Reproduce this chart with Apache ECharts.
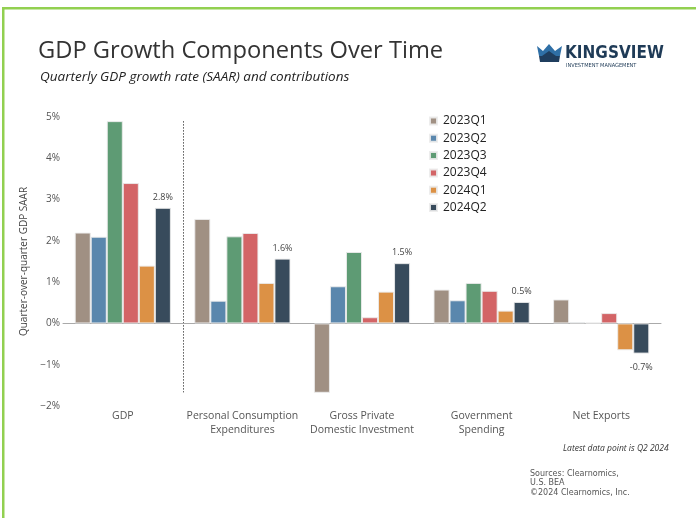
<!DOCTYPE html>
<html>
<head>
<meta charset="utf-8">
<script src="https://cdn.jsdelivr.net/npm/echarts@6/dist/echarts.min.js"></script>
<style>
html,body{margin:0;padding:0;background:#fff;}
#c{width:696px;height:518px;}
</style>
</head>
<body>
<div id="c"></div>
<script>
const categories = ['GDP', 'Personal Consumption\nExpenditures', 'Gross Private\nDomestic Investment', 'Government\nSpending', 'Net Exports'];
const seriesNames = ['2023Q1', '2023Q2', '2023Q3', '2023Q4', '2024Q1', '2024Q2'];
const q2023Q1 = [2.2, 2.53, -1.68, 0.82, 0.58];
const q2023Q2 = [2.1, 0.55, 0.90, 0.56, 0.03];
const q2023Q3 = [4.9, 2.11, 1.73, 0.98, 0.02];
const q2023Q4 = [3.4, 2.19, 0.15, 0.79, 0.25];
const q2024Q1 = [1.4, 0.98, 0.77, 0.31, -0.65];
const q2024Q2 = [2.8, 1.57, 1.46, 0.52, -0.73];
const seriesColors = ['#a09083', '#5a87ad', '#5e9b74', '#d36466', '#dc9145', '#384b5c'];
const yTicks = [-2, -1, 0, 1, 2, 3, 4, 5];

const allValues = [q2023Q1, q2023Q2, q2023Q3, q2023Q4, q2024Q1, q2024Q2];
const chart = echarts.init(document.getElementById('c'), null, {renderer: 'canvas'});

const FONT = '"Open Sans", "Noto Sans", sans-serif';

const series = seriesNames.map((name, i) => {
  const isLast = i === seriesNames.length - 1;
  return {
    name: name,
    type: 'bar',
    barCategoryGap: '19.6%',
    barGap: '0%',
    itemStyle: {color: seriesColors[i], borderColor: 'rgba(235,235,235,0.9)', borderWidth: 1},
    data: allValues[i].map(v => {
      const d = {value: v};
      if (isLast) {
        d.label = {
          show: true,
          position: v >= 0 ? 'top' : 'bottom',
          distance: v >= 0 ? 6 : 9,
          formatter: (p) => p.value.toFixed(1) + '%',
          fontSize: 9,
          color: '#444',
          fontFamily: FONT
        };
      }
      return d;
    })
  };
});

const option = {
  animation: false,
  backgroundColor: '#fff',
  grid: {left: 63, right: 35, top: 117, bottom: 112, containLabel: false},
  legend: {
    orient: 'vertical',
    left: 424,
    top: 110,
    itemWidth: 7,
    itemHeight: 7,
    itemGap: 5.3,
    icon: 'rect',
    data: seriesNames,
    textStyle: {fontSize: 12, color: '#222', fontFamily: FONT, lineHeight: 12, padding: [0,0,0,1]}
  },
  xAxis: {
    type: 'category',
    data: categories,
    axisLine: {show: true, onZero: true, lineStyle: {color: '#aaa', width: 1}},
    axisTick: {show: false},
    axisLabel: {
      interval: 0,
      fontSize: 10.5,
      color: '#555',
      fontFamily: FONT,
      lineHeight: 14,
      margin: 3
    },
    position: 'bottom'
  },
  yAxis: {
    type: 'value',
    min: -2,
    max: 5,
    interval: 1,
    splitLine: {show: false},
    axisLine: {show: false},
    axisTick: {show: false},
    name: 'Quarter-over-quarter GDP SAAR',
    nameLocation: 'middle',
    nameGap: 33,
    nameTextStyle: {fontSize: 10, color: '#444', fontFamily: FONT},
    axisLabel: {
      fontSize: 10,
      color: '#555',
      fontFamily: FONT,
      margin: 3,
      formatter: (v) => (v < 0 ? '\u2212' + Math.abs(v) : v) + '%'
    }
  },
  series: series
};
chart.setOption(option);

// divider between GDP and components
const x0 = chart.convertToPixel({xAxisIndex: 0}, 0);
const x1 = chart.convertToPixel({xAxisIndex: 0}, 1);
const divX = Math.round((x0 + x1) / 2) + 0.5;
const divTop = chart.convertToPixel({yAxisIndex: 0}, 4.9);
const divBot = chart.convertToPixel({yAxisIndex: 0}, -1.67);

chart.setOption({
  graphic: [
    {type: 'rect', shape: {x: 2, y: 7, width: 694, height: 2.5}, style: {fill: '#92d050'}, silent: true},
    {type: 'rect', shape: {x: 2, y: 7, width: 2.5, height: 511}, style: {fill: '#92d050'}, silent: true},
    {type: 'line', shape: {x1: divX, y1: divTop, x2: divX, y2: divBot}, style: {stroke: '#555', lineWidth: 1, lineDash: [1.5, 1.5]}, silent: true},
    {type: 'text', left: 38, top: 39, style: {text: 'GDP Growth Components Over Time', font: '23.7px ' + FONT, fill: '#333'}},
    {type: 'text', left: 40, top: 70, style: {text: 'Quarterly GDP growth rate (SAAR) and contributions', font: 'italic 13.5px ' + FONT, fill: '#222'}},
    // logo
    {type: 'polygon', shape: {points: [[537,46],[543,51],[549,44],[555,51],[562,46],[560,56],[539,56]]}, style: {fill: '#2f6fa6'}},
    {type: 'polygon', shape: {points: [[539,56],[560,56],[559,62],[540,62]]}, style: {fill: '#1f3d5e'}},
    {type: 'polygon', shape: {points: [[542,56],[549,51],[556,56]]}, style: {fill: '#1f3d5e'}},
    {type: 'text', left: 565, top: 45, style: {text: 'KINGSVIEW', font: 'bold 17px "DejaVu Sans Condensed", "Liberation Sans Narrow", sans-serif', fill: '#1f3b57'}},
    {type: 'text', left: 566, top: 63, style: {text: 'INVESTMENT MANAGEMENT', font: '5.6px "DejaVu Sans Condensed", sans-serif', fill: '#1f3b57'}},
    // notes
    {type: 'text', left: 563, top: 444, style: {text: 'Latest data point is Q2 2024', font: 'italic 8.5px ' + FONT, fill: '#333'}},
    {type: 'text', left: 530, top: 469, style: {text: 'Sources: Clearnomics,\nU.S. BEA\n\u00a92024 Clearnomics, Inc.', font: '8px "DejaVu Sans", sans-serif', fill: '#555', lineHeight: 9.5}}
  ]
});
</script>
</body>
</html>
